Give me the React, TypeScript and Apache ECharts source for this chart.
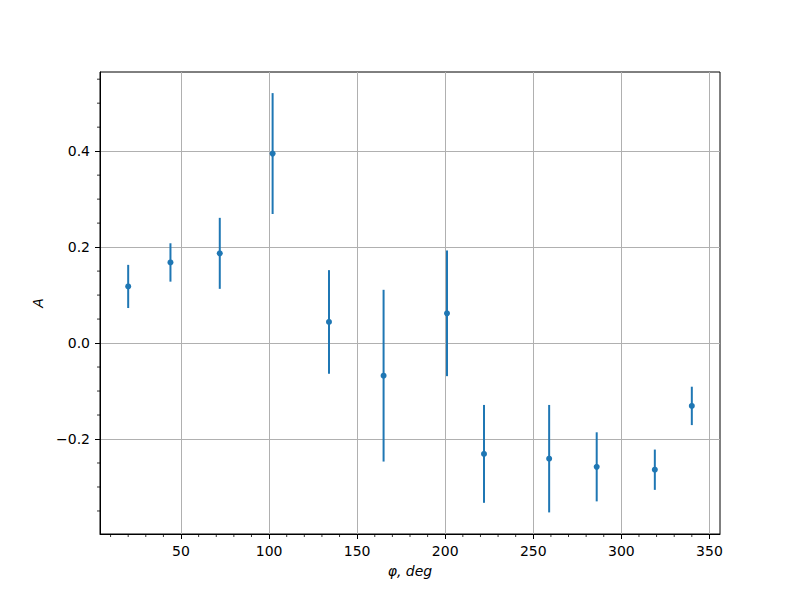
import React, { useEffect, useRef } from 'react';
import * as echarts from 'echarts';

// Data
const phi = [20, 44, 72, 102, 134, 165, 201, 222, 259, 286, 319, 340];
const amp = [0.118, 0.168, 0.187, 0.395, 0.044, -0.068, 0.062, -0.231, -0.241, -0.258, -0.264, -0.131];
const err = [0.045, 0.040, 0.074, 0.126, 0.108, 0.179, 0.131, 0.102, 0.112, 0.072, 0.042, 0.040];

// Ticks
const xMajor = [50, 100, 150, 200, 250, 300, 350];
const xMajorLabels = ['50', '100', '150', '200', '250', '300', '350'];
const xMinor = [10, 20, 30, 40, 60, 70, 80, 90, 110, 120, 130, 140, 160, 170, 180, 190, 210, 220, 230, 240, 260, 270, 280, 290, 310, 320, 330, 340];
const yMajor = [-0.2, 0, 0.2, 0.4];
const yMajorLabels = ['\u22120.2', '0.0', '0.2', '0.4'];
const yMinor = [-0.35, -0.3, -0.25, -0.15, -0.1, -0.05, 0.05, 0.1, 0.15, 0.25, 0.3, 0.35, 0.45, 0.5, 0.55];

const X_MIN = 4;
const X_MAX = 356;
const Y_MIN = -0.398;
const Y_MAX = 0.565;

const BLUE = '#1f77b4';
const FONT = 'DejaVu Sans';

function labelFor(ticks: number[], labels: string[]) {
  return (v: number) => {
    const i = ticks.findIndex((t) => Math.abs(t - v) < 1e-9);
    return i >= 0 ? labels[i] : '';
  };
}

export default function App() {
  const ref = useRef<HTMLDivElement>(null);

  useEffect(() => {
    if (!ref.current) return;
    const chart = echarts.init(ref.current, undefined, { renderer: 'svg' });

    const pointData = phi.map((x, i) => [x, amp[i]]);
    const errData = phi.map((x, i) => [x, amp[i], err[i]]);

    const option: any = {
      animation: false,
      backgroundColor: '#ffffff',
      grid: {
        left: 100,
        right: 80,
        top: 72,
        bottom: 66,
        show: true,
        borderColor: '#000000',
        borderWidth: 1,
        backgroundColor: 'transparent',
      },
      xAxis: {
        type: 'value',
        min: X_MIN,
        max: X_MAX,
        name: '\u03c6, deg',
        nameLocation: 'middle',
        nameGap: 30,
        nameTextStyle: { fontFamily: FONT, fontSize: 14, fontStyle: 'italic', color: '#000' },
        axisLine: { show: true, onZero: false, lineStyle: { color: '#000', width: 1 } },
        axisTick: { show: true, inside: false, length: 5, customValues: xMajor, lineStyle: { color: '#000', width: 1 } },
        axisLabel: {
          show: true,
          customValues: xMajor,
          margin: 10,
          fontFamily: FONT,
          fontSize: 14,
          color: '#000',
          formatter: labelFor(xMajor, xMajorLabels),
        },
        splitLine: { show: true, lineStyle: { color: '#b0b0b0', width: 1 } },
      },
      yAxis: {
        type: 'value',
        min: Y_MIN,
        max: Y_MAX,
        name: 'A',
        nameLocation: 'middle',
        nameGap: 50,
        nameRotate: 90,
        nameTextStyle: { fontFamily: FONT, fontSize: 14, fontStyle: 'italic', color: '#000' },
        axisLine: { show: true, onZero: false, lineStyle: { color: '#000', width: 1 } },
        axisTick: { show: true, inside: false, length: 5, customValues: yMajor, lineStyle: { color: '#000', width: 1 } },
        axisLabel: {
          show: true,
          customValues: yMajor,
          margin: 10,
          fontFamily: FONT,
          fontSize: 14,
          color: '#000',
          formatter: labelFor(yMajor, yMajorLabels),
        },
        splitLine: { show: true, lineStyle: { color: '#b0b0b0', width: 1 } },
      },
      series: [
        {
          type: 'custom',
          name: 'xminor',
          clip: false,
          silent: true,
          z: 1,
          data: xMinor.map((v) => [v, Y_MIN]),
          renderItem: (_p: any, api: any) => {
            const p = api.coord([api.value(0), api.value(1)]);
            return {
              type: 'line',
              shape: { x1: p[0], y1: p[1], x2: p[0], y2: p[1] + 3 },
              style: { stroke: '#000', lineWidth: 0.8 },
            };
          },
        },
        {
          type: 'custom',
          name: 'yminor',
          clip: false,
          silent: true,
          z: 1,
          data: yMinor.map((v) => [X_MIN, v]),
          renderItem: (_p: any, api: any) => {
            const p = api.coord([api.value(0), api.value(1)]);
            return {
              type: 'line',
              shape: { x1: p[0] - 3, y1: p[1], x2: p[0], y2: p[1] },
              style: { stroke: '#000', lineWidth: 0.8 },
            };
          },
        },
        {
          type: 'custom',
          name: 'errorbars',
          clip: false,
          z: 3,
          data: errData,
          encode: { x: 0, y: 1 },
          renderItem: (_p: any, api: any) => {
            const x = api.value(0);
            const y = api.value(1);
            const e = api.value(2);
            const p1 = api.coord([x, y - e]);
            const p2 = api.coord([x, y + e]);
            return {
              type: 'line',
              shape: { x1: p1[0], y1: p1[1], x2: p2[0], y2: p2[1] },
              style: { stroke: BLUE, lineWidth: 2 },
            };
          },
        },
        {
          type: 'scatter',
          name: 'A',
          z: 4,
          symbol: 'circle',
          symbolSize: 6,
          itemStyle: { color: BLUE, opacity: 1 },
          data: pointData,
        },
      ],
    };

    chart.setOption(option);
    return () => {
      chart.dispose();
    };
  }, []);

  return (
    <div
      ref={ref}
      style={{ position: 'fixed', left: 0, top: 0, width: 800, height: 600, background: '#fff' }}
    />
  );
}
